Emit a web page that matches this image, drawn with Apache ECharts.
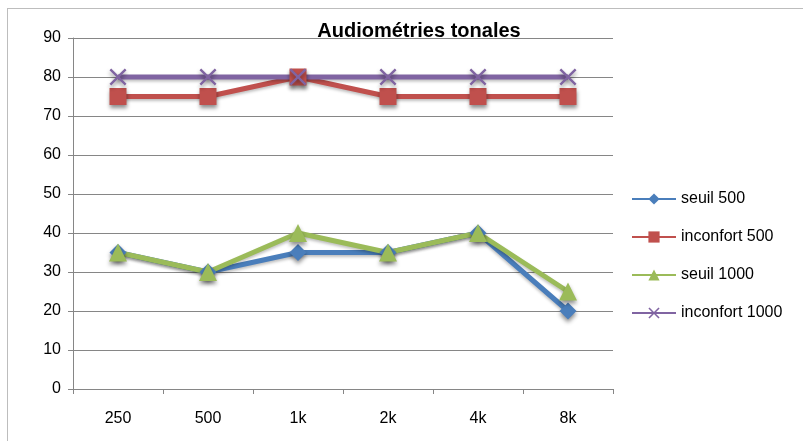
<!DOCTYPE html>
<html>
<head>
<meta charset="utf-8">
<script src="https://cdn.jsdelivr.net/npm/echarts@6/dist/echarts.min.js"></script>
<style>
  html, body { margin: 0; padding: 0; background: #fff; }
  #chart { width: 803px; height: 441px; }
  #frame { position: absolute; left: 7px; top: 8px; width: 820px; height: 460px; border: 1px solid #bdbdbd; pointer-events: none; }
</style>
</head>
<body>
<div id="chart"></div>
<div id="frame"></div>
<script>
// valeurs
var frequences = ['250', '500', '1k', '2k', '4k', '8k'];
var seuil500 = [35, 30, 35, 35, 40, 20];
var inconfort500 = [75, 75, 80, 75, 75, 75];
var seuil1000 = [35, 30, 40, 35, 40, 25];
var inconfort1000 = [80, 80, 80, 80, 80, 80];

var police = '"Liberation Sans", sans-serif';
var croix = 'path://M0,1L1,0L5,4L9,0L10,1L6,5L10,9L9,10L5,6L1,10L0,9L4,5Z';

function serie(nom, valeurs, couleur, symbole, taille) {
  return {
    name: nom,
    type: 'line',
    data: valeurs,
    symbol: symbole,
    symbolSize: taille,
    lineStyle: { color: couleur, width: 5, shadowColor: 'rgba(0,0,0,0.25)', shadowBlur: 3, shadowOffsetY: 2 },
    itemStyle: { color: couleur, shadowColor: 'rgba(0,0,0,0.45)', shadowBlur: 4, shadowOffsetY: 3 },
    emphasis: { disabled: true }
  };
}

var myChart = echarts.init(document.getElementById('chart'));
var option = {
  animation: false,
  title: {
    text: 'Audiométries tonales',
    left: 414,
    top: 16,
    textAlign: 'center',
    textStyle: { fontFamily: police, fontSize: 20, fontWeight: 'bold', color: '#000' }
  },
  legend: {
    orient: 'vertical',
    left: 626,
    top: 186,
    itemWidth: 44,
    itemHeight: 14,
    itemGap: 22,
    textStyle: { fontFamily: police, fontSize: 16, color: '#000' },
    data: ['seuil 500', 'inconfort 500', 'seuil 1000', 'inconfort 1000']
  },
  grid: { left: 73, right: 190, top: 38, bottom: 52 },
  xAxis: {
    type: 'category',
    data: frequences,
    boundaryGap: true,
    axisLine: { lineStyle: { color: '#868686' } },
    axisTick: { show: true, length: 5, lineStyle: { color: '#868686' } },
    axisLabel: { margin: 22, fontFamily: police, fontSize: 16, color: '#000' }
  },
  yAxis: {
    type: 'value',
    min: 0,
    max: 90,
    interval: 10,
    axisLine: { show: true, lineStyle: { color: '#868686' } },
    axisTick: { show: true, length: 5, lineStyle: { color: '#868686' } },
    axisLabel: { margin: 12, fontFamily: police, fontSize: 16, color: '#000' },
    splitLine: { lineStyle: { color: '#868686', width: 1 } }
  },
  series: [
    serie('seuil 500', seuil500, '#4a7ebb', 'diamond', 17),
    serie('inconfort 500', inconfort500, '#c0504d', 'rect', 17),
    serie('seuil 1000', seuil1000, '#9bbb59', 'triangle', 18),
    serie('inconfort 1000', inconfort1000, '#8064a2', croix, 17)
  ]
};
myChart.setOption(option);
</script>
</body>
</html>
